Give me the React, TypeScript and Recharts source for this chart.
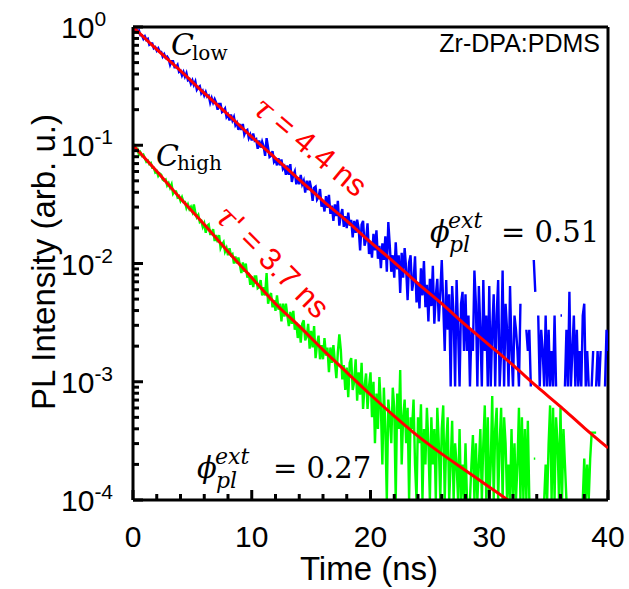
import React from "react";
import { LineChart, Line, XAxis, YAxis, ReferenceLine } from "recharts";

// sampling grid of the decay traces (ns), 0.125 ns bins
const timeNs = [
  0, 0.125, 0.25, 0.375, 0.5, 0.625, 0.75, 0.875,
  1, 1.125, 1.25, 1.375, 1.5, 1.625, 1.75, 1.875,
  2, 2.125, 2.25, 2.375, 2.5, 2.625, 2.75, 2.875,
  3, 3.125, 3.25, 3.375, 3.5, 3.625, 3.75, 3.875,
  4, 4.125, 4.25, 4.375, 4.5, 4.625, 4.75, 4.875,
  5, 5.125, 5.25, 5.375, 5.5, 5.625, 5.75, 5.875,
  6, 6.125, 6.25, 6.375, 6.5, 6.625, 6.75, 6.875,
  7, 7.125, 7.25, 7.375, 7.5, 7.625, 7.75, 7.875,
  8, 8.125, 8.25, 8.375, 8.5, 8.625, 8.75, 8.875,
  9, 9.125, 9.25, 9.375, 9.5, 9.625, 9.75, 9.875,
  10, 10.125, 10.25, 10.375, 10.5, 10.625, 10.75, 10.875,
  11, 11.125, 11.25, 11.375, 11.5, 11.625, 11.75, 11.875,
  12, 12.125, 12.25, 12.375, 12.5, 12.625, 12.75, 12.875,
  13, 13.125, 13.25, 13.375, 13.5, 13.625, 13.75, 13.875,
  14, 14.125, 14.25, 14.375, 14.5, 14.625, 14.75, 14.875,
  15, 15.125, 15.25, 15.375, 15.5, 15.625, 15.75, 15.875,
  16, 16.125, 16.25, 16.375, 16.5, 16.625, 16.75, 16.875,
  17, 17.125, 17.25, 17.375, 17.5, 17.625, 17.75, 17.875,
  18, 18.125, 18.25, 18.375, 18.5, 18.625, 18.75, 18.875,
  19, 19.125, 19.25, 19.375, 19.5, 19.625, 19.75, 19.875,
  20, 20.125, 20.25, 20.375, 20.5, 20.625, 20.75, 20.875,
  21, 21.125, 21.25, 21.375, 21.5, 21.625, 21.75, 21.875,
  22, 22.125, 22.25, 22.375, 22.5, 22.625, 22.75, 22.875,
  23, 23.125, 23.25, 23.375, 23.5, 23.625, 23.75, 23.875,
  24, 24.125, 24.25, 24.375, 24.5, 24.625, 24.75, 24.875,
  25, 25.125, 25.25, 25.375, 25.5, 25.625, 25.75, 25.875,
  26, 26.125, 26.25, 26.375, 26.5, 26.625, 26.75, 26.875,
  27, 27.125, 27.25, 27.375, 27.5, 27.625, 27.75, 27.875,
  28, 28.125, 28.25, 28.375, 28.5, 28.625, 28.75, 28.875,
  29, 29.125, 29.25, 29.375, 29.5, 29.625, 29.75, 29.875,
  30, 30.125, 30.25, 30.375, 30.5, 30.625, 30.75, 30.875,
  31, 31.125, 31.25, 31.375, 31.5, 31.625, 31.75, 31.875,
  32, 32.125, 32.25, 32.375, 32.5, 32.625, 32.75, 32.875,
  33, 33.125, 33.25, 33.375, 33.5, 33.625, 33.75, 33.875,
  34, 34.125, 34.25, 34.375, 34.5, 34.625, 34.75, 34.875,
  35, 35.125, 35.25, 35.375, 35.5, 35.625, 35.75, 35.875,
  36, 36.125, 36.25, 36.375, 36.5, 36.625, 36.75, 36.875,
  37, 37.125, 37.25, 37.375, 37.5, 37.625, 37.75, 37.875,
  38, 38.125, 38.25, 38.375, 38.5, 38.625, 38.75, 38.875,
  39, 39.125, 39.25, 39.375, 39.5, 39.625, 39.75, 39.875,
  40,
];

// log10 of PL intensity, C_low (blue); null = empty bin
const lowLog = [
  0, -0.03, -0.01, -0.04, -0.03, -0.07, -0.07, -0.1,
  -0.08, -0.11, -0.1, -0.15, -0.14, -0.14, -0.18, -0.17,
  -0.2, -0.18, -0.21, -0.21, -0.25, -0.23, -0.26, -0.25,
  -0.27, -0.32, -0.29, -0.29, -0.34, -0.34, -0.32, -0.38,
  -0.37, -0.41, -0.38, -0.42, -0.39, -0.45, -0.44, -0.48,
  -0.45, -0.49, -0.46, -0.53, -0.51, -0.5, -0.56, -0.54,
  -0.58, -0.55, -0.59, -0.58, -0.64, -0.6, -0.64, -0.61,
  -0.64, -0.7, -0.65, -0.65, -0.72, -0.71, -0.69, -0.76,
  -0.74, -0.79, -0.74, -0.79, -0.76, -0.83, -0.81, -0.87,
  -0.82, -0.87, -0.82, -0.91, -0.88, -0.87, -0.94, -0.91,
  -0.96, -0.9, -0.96, -0.95, -1.03, -0.96, -1.02, -0.97,
  -1.01, -1.09, -0.94, -1.02, -1.1, -1.09, -1.05, -1.14,
  -1.12, -1.17, -1.11, -1.17, -1.12, -1.2, -1.18, -1.25,
  -1.17, -1.25, -1.16, -1.31, -1.25, -1.22, -1.33, -1.27,
  -1.33, -1.25, -1.33, -1.3, -1.4, -1.3, -1.38, -1.3,
  -1.36, -1.47, -1.36, -1.35, -1.46, -1.44, -1.37, -1.52,
  -1.47, -1.56, -1.43, -1.53, -1.42, -1.58, -1.51, -1.64,
  -1.5, -1.6, -1.47, -1.68, -1.59, -1.54, -1.69, -1.6,
  -1.7, -1.57, -1.68, -1.63, -1.78, -1.64, -1.74, -1.63,
  -1.7, -1.89, -1.67, -1.64, -1.85, -1.8, -1.66, -1.92,
  -1.82, -1.95, -1.75, -1.89, -1.72, -1.96, -1.85, -2.04,
  -1.83, -1.97, -1.77, -2.07, -1.65, -1.85, -2.07, -1.93,
  -2.12, -1.82, -2.05, -1.93, -2.25, -1.91, -2.12, -1.87,
  -2.04, -2.31, -1.99, -1.93, -2.23, -2.15, -1.94, -2.33,
  -2.16, -2.38, -2.04, -2.27, -1.98, -2.37, -2.18, -2.49,
  -2.13, -2.36, -2.02, -2.51, -2.27, -2.13, -2.49, -2.25,
  -1.97, -2.34, -2.74, -2.14, -2.56, -2.26, -3.04, -2.19,
  -2.44, -3.04, -2.14, -2.56, -3.04, -2.34, -2.24, -2.74,
  -2.26, -2.74, -2.44, -3.04, -2.56, -2.74, -2.06, -2.34,
  -3.04, -2.19, -2.56, -3.04, -2.14, -2.74, -2.44, -3.04,
  -2.19, -3.04, -2.56, -2.26, -3.04, -2.44, -2.14, -3.04,
  -2.74, -2.06, -3.04, -2.34, -2.56, -3.04, -2.19, -2.74,
  -3.04, -2.44, -2.56, -2.74, -3.04, -2.34, null, -3.04,
  null, -2.56, -2.74, -2.56, -3.04, null, -1.97, -2.24,
  null, -2.44, -3.04, -2.56, -2.74, -3.04, -2.44, -3.04,
  -2.56, -3.04, -2.74, -3.04, -2.44, -3.04, null, null,
  -2.44, -2.44, null, -3.04, -2.56, -3.04, -2.24, -3.04,
  -2.74, -2.44, -3.04, -2.56, -3.04, -2.74, -3.04, -2.44,
  -2.34, -3.04, -2.74, -3.04, null, -3.04, -2.74, null,
  -3.04, -2.74, -3.04, -2.74, null, null, -3.04, -2.56,
  -2.74,
];

// log10 of PL intensity, C_high (green)
const highLog = [
  -1.01, -1.0, -1.03, -1.03, -1.08, -1.06, -1.09, -1.08,
  -1.11, -1.14, -1.13, -1.16, -1.15, -1.19, -1.19, -1.23,
  -1.22, -1.26, -1.24, -1.25, -1.29, -1.3, -1.29, -1.34,
  -1.32, -1.36, -1.33, -1.41, -1.39, -1.39, -1.44, -1.43,
  -1.47, -1.44, -1.48, -1.48, -1.53, -1.5, -1.54, -1.52,
  -1.56, -1.5, -1.57, -1.61, -1.59, -1.65, -1.64, -1.69,
  -1.66, -1.74, -1.68, -1.67, -1.75, -1.75, -1.71, -1.81,
  -1.76, -1.82, -1.76, -1.87, -1.84, -1.82, -1.9, -1.87,
  -1.93, -1.87, -1.93, -1.92, -2.0, -1.94, -2.0, -1.95,
  -2.01, -2.08, -1.99, -2.07, -2.0, -2.12, -2.08, -2.18,
  -2.11, -2.2, -2.11, -2.11, -2.21, -2.2, -2.14, -2.27,
  -2.2, -2.27, -2.08, -2.34, -2.28, -2.25, -2.37, -2.31,
  -2.4, -2.27, -2.39, -2.34, -2.49, -2.34, -2.45, -2.34,
  -2.44, -2.53, -2.41, -2.51, -2.4, -2.56, -2.5, -2.63,
  -2.52, -2.67, -2.51, -2.48, -2.65, -2.62, -2.51, -2.72,
  -2.57, -2.71, -2.53, -2.8, -2.68, -2.61, -2.81, -2.69,
  -2.81, -2.63, -2.78, -2.71, -2.92, -2.71, -2.84, -2.69,
  -2.83, -2.97, -2.75, -2.6, -2.73, -2.98, -2.86, -3.07,
  -2.88, -3.13, -2.84, -2.8, -3.07, -3.0, -2.81, -3.16,
  -2.92, -3.11, -2.84, -3.23, -3.04, -2.93, -3.23, -3.04,
  -2.92, -3.3, -3.0, -3.52, -3.1, -3.4, -2.96, -3.22,
  -3.7, -3.05, -3.4, -4.0, -3.15, -3.3, -3.52, -3.05,
  -3.22, -4.0, -3.1, -3.4, -2.9, -3.7, -3.3, -3.15,
  -3.52, -3.22, -4.0, -3.3, -3.4, -3.15, -3.7, -4.0,
  -3.3, -3.52, -3.19, -4.0, -3.4, -3.7, -3.22, -3.52,
  -4.0, -3.3, -3.7, -3.4, -4.0, -3.22, -3.52, -4.0,
  -3.4, -3.2, -4.0, -3.52, -3.3, -4.0, -3.7, -3.33,
  -4.0, -3.52, -3.7, -4.0, -3.4, -4.0, -3.7, -4.0,
  -3.52, -4.0, null, -4.0, -3.7, -3.45, -4.0, -3.52,
  -4.0, -3.7, -3.4, -4.0, -3.52, -3.2, -4.0, -3.3,
  -4.0, -3.7, -3.12, -4.0, -3.4, -3.22, -4.0, -3.52,
  -3.22, -4.0, -3.3, -3.52, -4.0, -3.7, -4.0, -3.4,
  -4.0, -3.52, -4.0, -3.7, -3.22, -4.0, -3.3, -4.0,
  -3.4, -4.0, -3.33, -4.0, null, null, -3.65, -3.65,
  null, -4.0, null, null, null, -4.0, -3.7, -4.0,
  -3.52, -3.2, -4.0, -3.22, -4.0, -3.3, -3.52, -4.0,
  -3.22, -4.0, -3.4, -3.7, -4.0, null, null, null,
  null, null, null, null, -4.0, null, null, -4.0,
  -3.65, -4.0, -3.7, -4.0, -3.65, -3.43, -3.43, -3.43,
  -3.43, null, null, null, null, null, null, null,
  null,
];

// fitted decays, read every 2 ns
const fitTime = [0, 2, 4, 6, 8, 10, 12, 14, 16, 18, 20, 22, 24, 26, 28, 30, 32, 34, 36, 38, 40];
const lowFit = [0, -0.19, -0.37, -0.56, -0.74, -0.93, -1.11, -1.29, -1.47, -1.64, -1.82, -1.99, -2.17, -2.34, -2.52, -2.69, -2.86, -3.04, -3.21, -3.39, -3.56];
const highFit = [-1.0, -1.22, -1.45, -1.67, -1.9, -2.12, -2.34, -2.53, -2.73, -2.92, -3.11, -3.29, -3.46, -3.61, -3.75, -3.89, -4.03, -4.16];

const xTicks = [0, 2, 4, 6, 8, 10, 12, 14, 16, 18, 20, 22, 24, 26, 28, 30, 32, 34, 36, 38, 40];
const xLabels = [0, 10, 20, 30, 40];
const yDecades = [0, -1, -2, -3, -4];
const minorSteps = [2, 3, 4, 5, 6, 7, 8, 9];

const traces = timeNs.map((t, i) => ({ t, low: lowLog[i], high: highLog[i] }));
const lowFitData = fitTime.map((t, i) => ({ t, v: lowFit[i] }));
const highFitData = highFit.map((v, i) => ({ t: fitTime[i], v }));

const yMinor: number[] = [];
yDecades.slice(1).forEach((d) => minorSteps.forEach((k) => yMinor.push(d + Math.log10(k))));

// chart geometry
const W = 629;
const H = 589;
const M = { top: 27, right: 21, bottom: 49, left: 73 };
const Y_W = 60;
const X_H = 40;
const plotX = M.left + Y_W;
const plotY = M.top;
const plotW = W - M.left - M.right - Y_W;
const plotH = H - M.top - M.bottom - X_H;
const X_MIN = 0;
const X_MAX = 40;
const Y_MIN = -4;
const Y_MAX = 0;
const px = (t: number) => plotX + ((t - X_MIN) / (X_MAX - X_MIN)) * plotW;
const py = (v: number) => plotY + ((Y_MAX - v) / (Y_MAX - Y_MIN)) * plotH;

const sans = "'Liberation Sans', Arial, sans-serif";
const serif = "'DejaVu Serif', serif";

const XTick = (props: any) => {
  const { x, y, payload } = props;
  if (!xLabels.includes(payload.value)) return <g />;
  return (
    <text x={x} y={y + 47} textAnchor="middle" fontSize={30} fontFamily={sans} fill="#000">
      {payload.value}
    </text>
  );
};

const YTick = (props: any) => {
  const { y, payload } = props;
  return (
    <text x={61} y={y + 11} fontSize={30} fontFamily={sans} fill="#000">
      10
      <tspan dy={-12} fontSize={21}>
        {String(payload.value)}
      </tspan>
    </text>
  );
};

// inward tick marks on the left and bottom axes
const TickMarks = () => (
  <g stroke="#000" strokeWidth={3}>
    {yDecades.map((v) => (
      <line key={`yM${v}`} x1={plotX} x2={plotX + 10} y1={py(v)} y2={py(v)} />
    ))}
    {yMinor.map((v) => (
      <line key={`ym${v}`} x1={plotX} x2={plotX + 6} y1={py(v)} y2={py(v)} />
    ))}
    {xTicks.map((t) => (
      <line key={`x${t}`} x1={px(t)} x2={px(t)} y1={plotY + plotH} y2={plotY + plotH - (xLabels.includes(t) ? 10 : 6)} />
    ))}
  </g>
);

export default function App() {
  const axisLine = { stroke: "#000", strokeWidth: 3 };
  return (
    <div style={{ position: "absolute", left: 0, top: 0, width: W, height: H, background: "#fff" }}>
      <LineChart width={W} height={H} data={traces} margin={M}>
        <XAxis
          type="number"
          dataKey="t"
          domain={[X_MIN, X_MAX]}
          ticks={xTicks}
          interval={0}
          tickSize={0}
          tickMargin={0}
          tickLine={false}
          tick={(p: any) => <XTick {...p} />}
          axisLine={axisLine}
          height={X_H}
          allowDataOverflow
        />
        <YAxis
          type="number"
          domain={[Y_MIN, Y_MAX]}
          ticks={yDecades}
          interval={0}
          tickSize={0}
          tickMargin={0}
          tickLine={false}
          tick={(p: any) => <YTick {...p} />}
          axisLine={axisLine}
          width={Y_W}
          allowDataOverflow
        />
        <ReferenceLine y={Y_MAX} stroke="#000" strokeWidth={3} />
        <ReferenceLine x={X_MAX} stroke="#000" strokeWidth={3} />
        <Line dataKey="low" stroke="#0000ff" strokeWidth={2.4} dot={false} isAnimationActive={false} />
        <Line dataKey="high" stroke="#00ff00" strokeWidth={2.4} dot={false} isAnimationActive={false} />
        <Line data={lowFitData} dataKey="v" type="monotone" stroke="#ff0000" strokeWidth={3} dot={false} isAnimationActive={false} />
        <Line data={highFitData} dataKey="v" type="monotone" stroke="#ff0000" strokeWidth={3} dot={false} isAnimationActive={false} />
      </LineChart>
      <svg width={W} height={H} style={{ position: "absolute", left: 0, top: 0, pointerEvents: "none" }}>
        <TickMarks />
        <text x={369} y={580} textAnchor="middle" fontSize={33} fontFamily={sans}>Time (ns)</text>
        <text transform="translate(55,262) rotate(-90)" textAnchor="middle" fontSize={33} fontFamily={sans}>
          PL Intensity (arb. u.)
        </text>
        <text x={600} y={52} textAnchor="end" fontSize={25} fontFamily={sans}>Zr-DPA:PDMS</text>

        <text x={171} y={55} fontFamily={serif}>
          <tspan fontSize={30} fontStyle="italic">C</tspan>
          <tspan fontSize={20} dx={-2} dy={5}>low</tspan>
        </text>
        <text x={156} y={166} fontFamily={serif}>
          <tspan fontSize={30} fontStyle="italic">C</tspan>
          <tspan fontSize={20} dx={-2} dy={4}>high</tspan>
        </text>

        <text transform="translate(309,148) rotate(40)" textAnchor="middle" dominantBaseline="middle" fontSize={31} fontFamily={sans} fill="#ff0000">
          <tspan fontFamily={serif} fontStyle="italic">τ</tspan> = 4.4 ns
        </text>
        <text transform="translate(271,263) rotate(45)" textAnchor="middle" dominantBaseline="middle" fontSize={31} fontFamily={sans} fill="#ff0000">
          <tspan fontFamily={serif} fontStyle="italic">τ'</tspan> = 3.7 ns
        </text>

        <text x={430} y={242} fontSize={29} fontFamily={serif} fontStyle="italic">ϕ</text>
        <text x={448} y={228} fontSize={22} fontFamily={serif} fontStyle="italic">ext</text>
        <text x={449} y={252} fontSize={22} fontFamily={serif} fontStyle="italic">pl</text>
        <text x={501} y={242} fontSize={29} fontFamily={serif}>= 0.51</text>

        <text x={197} y={478} fontSize={29} fontFamily={serif} fontStyle="italic">ϕ</text>
        <text x={215} y={464} fontSize={22} fontFamily={serif} fontStyle="italic">ext</text>
        <text x={216} y={488} fontSize={22} fontFamily={serif} fontStyle="italic">pl</text>
        <text x={273} y={478} fontSize={29} fontFamily={serif}>= 0.27</text>
      </svg>
    </div>
  );
}
